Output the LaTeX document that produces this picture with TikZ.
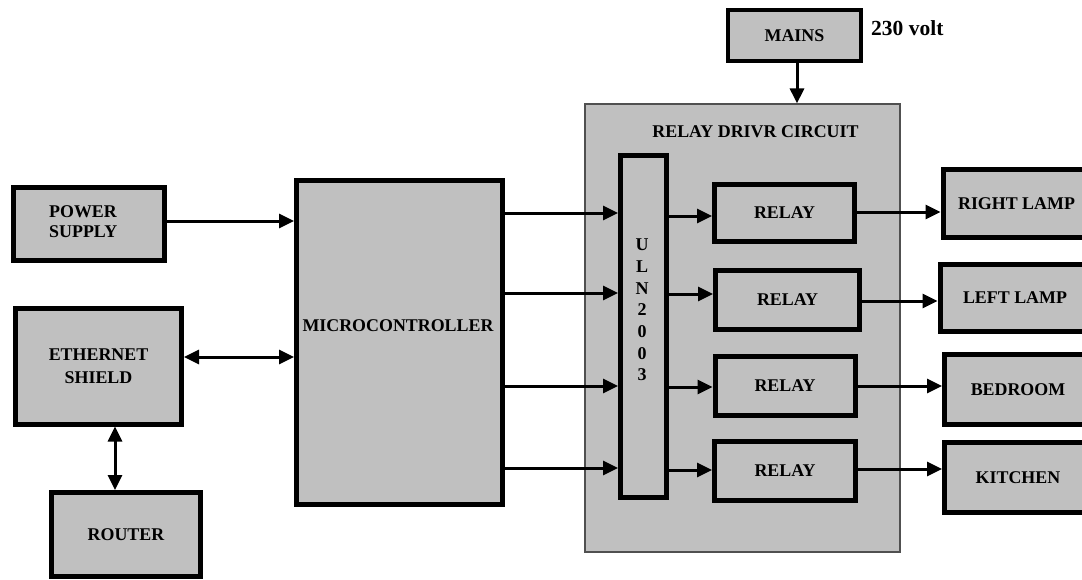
\documentclass[tikz,border=0pt]{standalone}
\usepackage{fontspec}
\setmainfont{Liberation Serif}
\usetikzlibrary{arrows.meta}
\definecolor{boxgray}{HTML}{C0C0C0}
\definecolor{rimgray}{HTML}{505050}
\begin{document}
\begin{tikzpicture}[x=1pt,y=-1pt,
  blk/.style={draw=black,fill=boxgray,line width=5pt,inner sep=0pt,
    font=\fontsize{17.9}{23}\selectfont\bfseries,align=center},
  thinblk/.style={blk,line width=3.5pt},
  txt/.style={inner sep=0pt,font=\fontsize{17.9}{20}\selectfont\bfseries,align=center},
  arr/.style={line width=3pt,-{Triangle[length=15pt,width=14pt]}},
  darr/.style={line width=3pt,{Triangle[length=15pt,width=14pt]}-{Triangle[length=15pt,width=14pt]}}]
\useasboundingbox (0,0) rectangle (1082,579);
\clip (0,0) rectangle (1082,579);

% relay driver circuit container
\node[draw=rimgray,fill=boxgray,line width=1.2pt,minimum width=315pt,minimum height=448pt,inner sep=0pt] (rdc) at (742.5,328) {};
\node[txt] (rdctitle) at (755.5,132) {RELAY DRIVR CIRCUIT};

% left side
\node[blk,minimum width=151pt,minimum height=73pt] (ps) at (89,224) {};
\node[txt,anchor=west,align=left] (pstxt) at (49,222) {POWER\\SUPPLY};
\node[blk,minimum width=166pt,minimum height=116pt] (eth) at (98.5,366) {ETHERNET\\SHIELD};
\node[blk,minimum width=149pt,minimum height=84pt] (router) at (126,534.5) {ROUTER};
\node[blk,minimum width=206pt,minimum height=324pt] (micro) at (399.5,342.5) {};
\node[txt] (microtxt) at (398,326) {MICROCONTROLLER};

% mains
\node[thinblk,minimum width=133pt,minimum height=51pt] (mains) at (794.5,35.5) {MAINS};
\node[txt,anchor=west,font=\fontsize{21.5}{24}\selectfont\bfseries] (volt) at (871,28.5) {230 volt};

% ULN2003
\node[blk,minimum width=46pt,minimum height=342pt] (uln) at (643.5,326.5) {};
\node[txt,font=\fontsize{18}{21.7}\selectfont\bfseries] (ulntxt) at (642,310) {U\\L\\N\\2\\0\\0\\3};

% relays
\node[blk,minimum width=140pt,minimum height=57pt] (r1) at (784.5,213) {RELAY};
\node[blk,minimum width=144pt,minimum height=59pt] (r2) at (787.5,300) {RELAY};
\node[blk,minimum width=140pt,minimum height=59pt] (r3) at (785,386) {RELAY};
\node[blk,minimum width=141pt,minimum height=59pt] (r4) at (785,471) {RELAY};

% loads
\node[blk,minimum width=147pt,minimum height=68pt] (rl) at (1016.5,203.5) {RIGHT LAMP};
\node[blk,minimum width=150pt,minimum height=67pt] (ll) at (1015,298) {LEFT LAMP};
\node[blk,minimum width=147pt,minimum height=70pt] (bed) at (1018,389.5) {BEDROOM};
\node[blk,minimum width=147pt,minimum height=70pt] (kit) at (1018,477.5) {KITCHEN};

% connectors
\draw[arr] (ps.east |- 0,221) -- (micro.west |- 0,221);
\draw[darr] (eth.east |- 0,357) -- (micro.west |- 0,357);
\draw[darr] (eth.south -| 115,0) -- (router.north -| 115,0);
\draw[arr] (mains.south -| 797,0) -- (rdc.north -| 797,0);

\foreach \yy in {213,293,386,468}
  \draw[arr] (micro.east |- 0,\yy) -- (uln.west |- 0,\yy);

\foreach \yy/\rr in {216/r1,294/r2,387/r3,470/r4}
  \draw[arr] (uln.east |- 0,\yy) -- (\rr.west |- 0,\yy);

\foreach \yy/\rr/\ld in {212/r1/rl,301/r2/ll,386/r3/bed,469/r4/kit}
  \draw[arr] (\rr.east |- 0,\yy) -- (\ld.west |- 0,\yy);
\end{tikzpicture}
\end{document}
